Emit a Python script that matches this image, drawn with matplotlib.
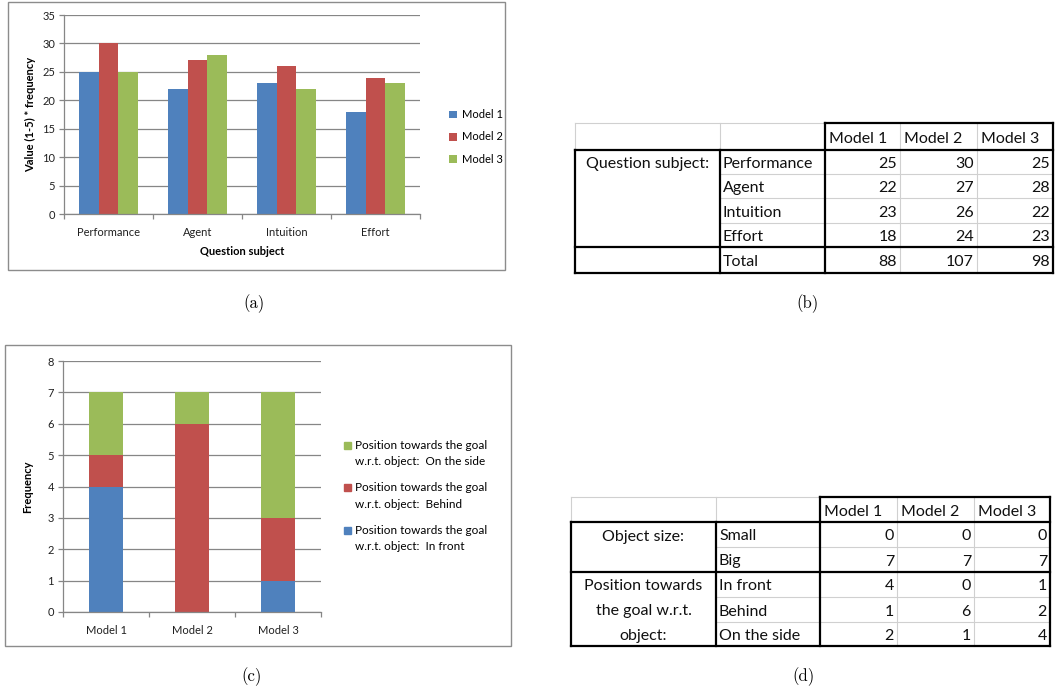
import matplotlib.pyplot as plt
from matplotlib.patches import Rectangle
from matplotlib.lines import Line2D

# question-subject scores per model
subjects = ["Performance", "Agent", "Intuition", "Effort"]
models = ["Model 1", "Model 2", "Model 3"]
model1_scores = [25, 22, 23, 18]
model2_scores = [30, 27, 26, 24]
model3_scores = [25, 28, 22, 23]
score_totals = [88, 107, 98]

# goal position frequencies per model
in_front = [4, 0, 1]
behind = [1, 6, 2]
on_the_side = [2, 1, 4]
object_small = [0, 0, 0]
object_big = [7, 7, 7]
position_labels = ["In front", "Behind", "On the side"]
position_legend = ["Position towards the goal\nw.r.t. object:  In front",
                   "Position towards the goal\nw.r.t. object:  Behind",
                   "Position towards the goal\nw.r.t. object:  On the side"]

BLUE, RED, GREEN = "#4F81BD", "#C0504D", "#9BBB59"
GRID = "#868686"
W, H = 1055, 694
FONT = "Lato"

fig = plt.figure(figsize=(W / 100, H / 100), dpi=100)


def px_axes(x0, y0, x1, y1):
    return fig.add_axes([x0 / W, 1 - y1 / H, (x1 - x0) / W, (y1 - y0) / H])


# canvas in pixel units for frames, tables and captions
canvas = fig.add_axes([0, 0, 1, 1], zorder=-1)
canvas.set_xlim(0, W)
canvas.set_ylim(H, 0)
canvas.axis("off")


def excel_axes(ax, n, ymax, step):
    ax.set_xlim(-0.5, n - 0.5)
    ax.set_ylim(0, ymax)
    ax.set_yticks(range(0, ymax + 1, step))
    ax.yaxis.grid(True, color=GRID, lw=0.9)
    ax.set_axisbelow(True)
    for s in ["top", "right"]:
        ax.spines[s].set_visible(False)
    for s in ["left", "bottom"]:
        ax.spines[s].set_color(GRID)
        ax.spines[s].set_linewidth(0.9)
    ax.set_xticks(range(n))
    ax.set_xticks([i - 0.5 for i in range(n + 1)], minor=True)
    ax.tick_params(axis="x", which="major", length=0, pad=9)
    ax.tick_params(axis="x", which="minor", length=3.5, color=GRID, width=0.9)
    ax.tick_params(axis="y", length=3.5, color=GRID, width=0.9, pad=3)
    for lab in ax.get_xticklabels() + ax.get_yticklabels():
        lab.set_fontfamily(FONT)
        lab.set_fontsize(8)
        lab.set_color("#202020")


# (a) grouped bars
canvas.add_patch(Rectangle((8, 2), 497, 268, fill=False, ec="#8c8c8c", lw=1))
ax1 = px_axes(64, 15, 420, 214)
bw = 0.222
xs = range(len(subjects))
for k, (vals, col) in enumerate([(model1_scores, BLUE), (model2_scores, RED), (model3_scores, GREEN)]):
    ax1.bar([x + (k - 1) * bw for x in xs], vals, bw, color=col, label=models[k], zorder=2)
ax1.set_xticks(list(xs))
ax1.set_xticklabels(subjects)
excel_axes(ax1, len(subjects), 35, 5)
ax1.set_xlabel("Question subject", fontfamily=FONT, fontsize=8, fontweight="bold", labelpad=6)
ax1.set_ylabel("Value (1-5) * frequency", fontfamily=FONT, fontsize=8, fontweight="bold", labelpad=4)
ax1.legend(loc="center left", bbox_to_anchor=(439 / W, 1 - 137 / H), bbox_transform=fig.transFigure,
           frameon=False, handlelength=0.7, handleheight=0.7, handletextpad=0.5, labelspacing=1.0,
           prop={"family": FONT, "size": 8})

# (c) stacked bars
canvas.add_patch(Rectangle((5, 345), 506, 301, fill=False, ec="#8c8c8c", lw=1))
ax3 = px_axes(63, 361, 321, 612)
xm = range(len(models))
bottom2 = [a + b for a, b in zip(in_front, behind)]
ax3.bar(xm, in_front, 0.4, color=BLUE, zorder=2)
ax3.bar(xm, behind, 0.4, bottom=in_front, color=RED, zorder=2)
ax3.bar(xm, on_the_side, 0.4, bottom=bottom2, color=GREEN, zorder=2)
ax3.set_xticks(list(xm))
ax3.set_xticklabels(models)
excel_axes(ax3, len(models), 8, 1)
ax3.set_ylabel("Frequency", fontfamily=FONT, fontsize=8, fontweight="bold", labelpad=10)

# legend, top entry first, marker level with the first text line
for i, (label, col) in enumerate(zip(position_legend[::-1], [GREEN, RED, BLUE])):
    y = 445 + i * 42.5
    canvas.add_patch(Rectangle((344, y - 3.5), 7, 7, color=col))
    canvas.text(355, y + 8.5, label, fontfamily=FONT, fontsize=8.5, va="center", linespacing=1.65)


def hline(y, x0, x1, thick):
    canvas.add_line(Line2D([x0, x1], [y, y], color="black" if thick else "#d0d0d0",
                           lw=1.6 if thick else 0.8, zorder=3 if thick else 2))


def vline(x, y0, y1, thick):
    canvas.add_line(Line2D([x, x], [y0, y1], color="black" if thick else "#d0d0d0",
                           lw=1.6 if thick else 0.8, zorder=3 if thick else 2))


def cell_text(x, y, s, ha):
    # cell text sits a little below the middle, like a spreadsheet cell
    canvas.text(x, y + 2, s, ha=ha, va="center", fontfamily=FONT, fontsize=11.5, color="#101010")


def draw_table(cols, rows, groups, row_labels, values):
    # header row: spreadsheet grid on the left, bold box over the model columns
    hline(rows[0], cols[0], cols[2], False)
    vline(cols[0], rows[0], rows[1], False)
    vline(cols[1], rows[0], rows[1], False)
    hline(rows[0], cols[2], cols[5], True)
    for j, m in enumerate(models):
        cell_text(cols[2 + j] + 4, (rows[0] + rows[1]) / 2, m, "left")
    # thin inner lines
    for r in range(2, len(rows) - 1):
        hline(rows[r], cols[1], cols[5], False)
    for c in (cols[3], cols[4]):
        vline(c, rows[0], rows[-1], False)
    # bold frame
    hline(rows[1], cols[0], cols[5], True)
    hline(rows[-1], cols[0], cols[5], True)
    vline(cols[0], rows[1], rows[-1], True)
    vline(cols[1], rows[1], rows[-1], True)
    vline(cols[2], rows[0], rows[-1], True)
    vline(cols[5], rows[0], rows[-1], True)
    start = 1
    for name, span in groups:
        if start > 1:
            hline(rows[start], cols[0], cols[5], True)
        for k, line in enumerate(name.split("\n")):
            cell_text((cols[0] + cols[1]) / 2, (rows[start + k] + rows[start + k + 1]) / 2, line, "center")
        start += span
    for i, (lab, vals) in enumerate(zip(row_labels, values)):
        yc = (rows[i + 1] + rows[i + 2]) / 2
        cell_text(cols[1] + 3, yc, lab, "left")
        for j, v in enumerate(vals):
            cell_text(cols[3 + j] - 3, yc, str(v), "right")


# (b) score table
score_rows = [list(r) for r in zip(model1_scores, model2_scores, model3_scores)]
draw_table([575, 720, 825, 900, 977, 1053], [123, 150, 174, 198, 223, 247, 273],
           [("Question subject:", 4), ("", 1)], subjects + ["Total"], score_rows + [score_totals])

# (d) frequency table
freq_rows = [object_small, object_big, in_front, behind, on_the_side]
draw_table([571, 716, 820, 897, 974, 1050], [497, 522, 547, 572, 597, 622, 646],
           [("Object size:", 2), ("Position towards\nthe goal w.r.t.\nobject:", 3)],
           ["Small", "Big"] + position_labels, freq_rows)

# captions
for x, y, s in [(254, 304, "(a)"), (808, 304, "(b)"), (252, 677, "(c)"), (804, 677, "(d)")]:
    canvas.text(x, y, s, ha="center", va="center", fontfamily="cmr10", fontsize=12)

fig.savefig("out.png", dpi=100)
